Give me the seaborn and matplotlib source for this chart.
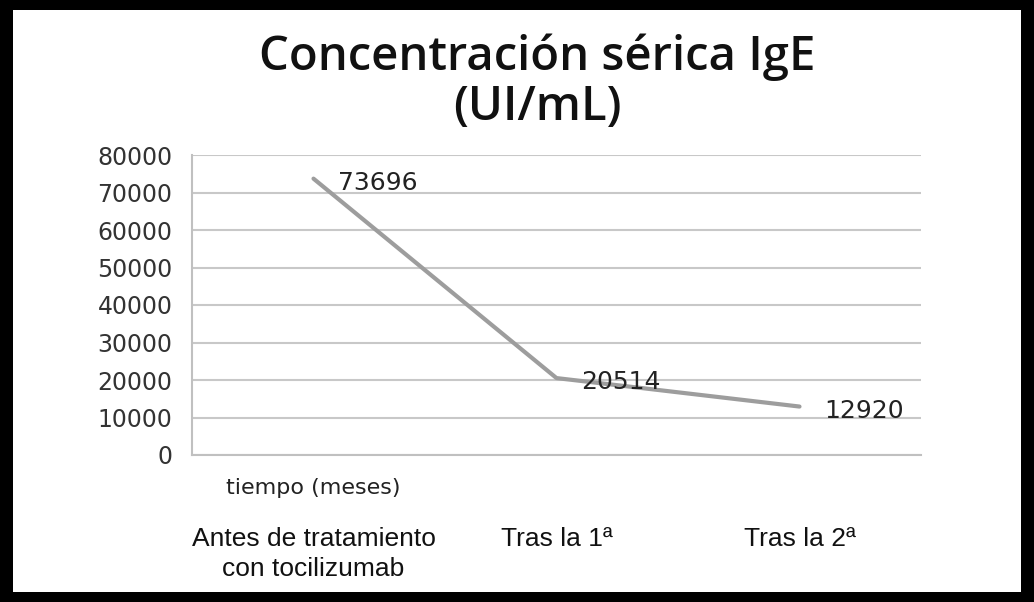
import numpy as np
import pandas as pd
import matplotlib.pyplot as plt
from matplotlib.patches import Rectangle
import seaborn as sns

# data
categories = ["Antes de tratamiento\ncon tocilizumab", "Tras la 1ª", "Tras la 2ª"]
ige_values = [73696, 20514, 12920]
y_ticks = [0, 10000, 20000, 30000, 40000, 50000, 60000, 70000, 80000]

df = pd.DataFrame({"cat": categories, "IgE": ige_values})
df["pos"] = np.arange(len(df)) + 0.5

sns.set_style("white")
plt.rcParams["font.family"] = ["DejaVu Sans"]

fig = plt.figure(figsize=(10.34, 6.02), dpi=100)
fig.patch.set_facecolor("black")
# white inner panel inside the black frame
bg = Rectangle((13 / 1034, 10 / 602), 1 - 26 / 1034, 1 - 20 / 602,
               transform=fig.transFigure, facecolor="white",
               edgecolor="none", zorder=-10)
fig.patches.append(bg)

ax = fig.add_axes([192 / 1034, 1 - 455 / 602, 729 / 1034, 300 / 602])
ax.set_facecolor("white")

sns.lineplot(data=df, x="pos", y="IgE", ax=ax, color="#9d9d9d", linewidth=3)

ax.set_xlim(0, len(df))
ax.set_ylim(0, 80000)
ax.set_yticks(y_ticks)
ax.set_yticklabels([str(v) for v in y_ticks], fontsize=17, color="#333333")
ax.yaxis.grid(True, color="#c8c8c8", linewidth=1.5)
ax.set_axisbelow(True)

# boundary ticks on the category axis, labels centred under each category
ax.set_xticks(np.arange(len(df) + 1))
ax.set_xticklabels([])
ax.set_xticks(df["pos"], minor=True)
ax.set_xticklabels(df["cat"], minor=True, fontsize=19, family="Liberation Sans",
                   color="#111111", linespacing=1.3)
ax.tick_params(axis="x", which="major", length=8, width=1.5, color="#c0c0c0", direction="out")
ax.tick_params(axis="x", which="minor", length=0, pad=52)
ax.tick_params(axis="y", length=0, pad=14)
ax.set_xlabel("")
ax.set_ylabel("")

for side in ["top", "right"]:
    ax.spines[side].set_visible(False)
for side in ["left", "bottom"]:
    ax.spines[side].set_color("#c0c0c0")
    ax.spines[side].set_linewidth(1.5)

# data labels
for _, r in df.iterrows():
    ax.annotate(str(r["IgE"]), (r["pos"], r["IgE"]), xytext=(18, -3),
                textcoords="offset points", fontsize=18, color="#222222",
                ha="left", va="center")

fig.text(226 / 1034, 1 - 488 / 602, "tiempo (meses)", fontsize=16,
         color="#222222", ha="left", va="center")

fig.text(0.52, 1 - 82 / 602, "Concentración sérica IgE\n(UI/mL)", ha="center",
         va="center", fontsize=34, family="Open Sans", fontweight="semibold",
         color="#111111", linespacing=1.08)

fig.savefig("out.png", dpi=100, facecolor=fig.get_facecolor())
